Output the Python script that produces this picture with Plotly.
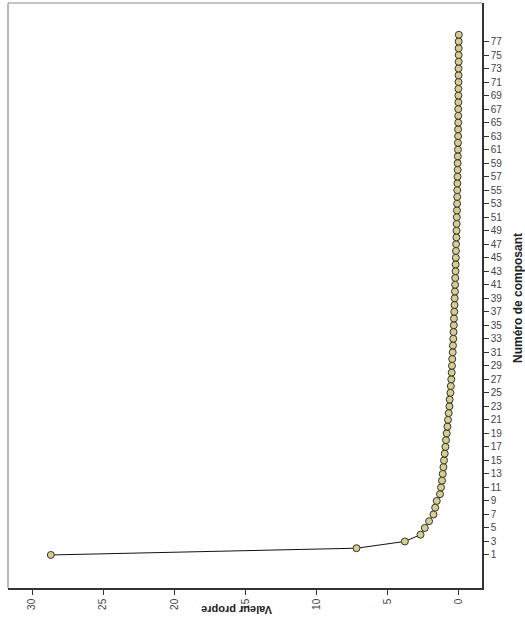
import plotly.graph_objects as go

# Eigenvalues of the principal components (scree data)
components = list(range(1, 79))
eigenvalues = [
    28.68, 7.20, 3.80, 2.70, 2.40, 2.10, 1.79, 1.67, 1.56, 1.33,
    1.26, 1.19, 1.14, 1.09, 1.05, 1.00, 0.95, 0.91, 0.86, 0.81,
    0.77, 0.72, 0.67, 0.65, 0.60, 0.57, 0.54, 0.51, 0.49, 0.47,
    0.44, 0.42, 0.40, 0.38, 0.36, 0.35, 0.33, 0.31, 0.30, 0.28,
    0.27, 0.26, 0.24, 0.23, 0.22, 0.21, 0.20, 0.18, 0.17, 0.16,
    0.15, 0.14, 0.13, 0.12, 0.12, 0.11, 0.10, 0.09, 0.09, 0.08,
    0.07, 0.07, 0.06, 0.06, 0.05, 0.05, 0.05, 0.04, 0.04, 0.04,
    0.03, 0.03, 0.03, 0.02, 0.02, 0.02, 0.02, 0.01,
]
eigen_ticks = [0, 5, 10, 15, 20, 25, 30]
component_ticks = list(range(1, 78, 2))

x_title = "Valeur propre"
y_title = "Numéro de composant"

fig = go.Figure(
    go.Scatter(
        x=eigenvalues,
        y=components,
        mode="lines+markers",
        line=dict(color="#111111", width=1),
        marker=dict(size=7, color="#d6ce8e",
                    line=dict(color="#333333", width=1)),
        hoverinfo="x+y",
    )
)

font_family = "Liberation Sans, Arial, sans-serif"

fig.update_layout(
    width=525,
    height=633,
    margin=dict(l=8, r=43, t=3, b=45),
    plot_bgcolor="white",
    paper_bgcolor="white",
    showlegend=False,
    font=dict(family=font_family, size=10, color="#333333"),
    xaxis=dict(
        range=[31.69, -1.62],
        tickvals=eigen_ticks,
        ticktext=[str(v) for v in eigen_ticks],
        tickangle=-90,
        ticks="outside",
        ticklen=5,
        tickcolor="#333333",
        showline=True,
        linecolor="#333333",
        linewidth=1.5,
        showgrid=False,
        zeroline=False,
        tickfont=dict(size=10, color="#444444"),
    ),
    yaxis=dict(
        range=[-3.89, 82.7],
        side="right",
        tickvals=component_ticks,
        ticktext=[str(v) for v in component_ticks],
        ticks="outside",
        ticklen=5,
        tickcolor="#333333",
        showline=True,
        linecolor="#333333",
        linewidth=1.5,
        showgrid=False,
        zeroline=False,
        tickfont=dict(size=10, color="#444444"),
    ),
    shapes=[
        dict(type="line", xref="paper", yref="paper", x0=0, x1=1, y0=1, y1=1,
             line=dict(color="#8a8a8a", width=1.2), layer="below"),
        dict(type="line", xref="paper", yref="paper", x0=0, x1=0, y0=0, y1=1,
             line=dict(color="#8a8a8a", width=1.2), layer="below"),
    ],
    annotations=[
        dict(text=f"<b>{x_title}</b>", xref="paper", yref="paper",
             x=0.481, y=-0.0376, showarrow=False, textangle=180,
             font=dict(size=11, color="#222222", family=font_family),
             xanchor="center", yanchor="middle"),
        dict(text=f"<b>{y_title}</b>", xref="paper", yref="paper",
             x=1.076, y=0.4957, showarrow=False, textangle=-90,
             font=dict(size=12, color="#222222", family=font_family),
             xanchor="center", yanchor="middle"),
    ],
)

fig.write_html("out.html")
